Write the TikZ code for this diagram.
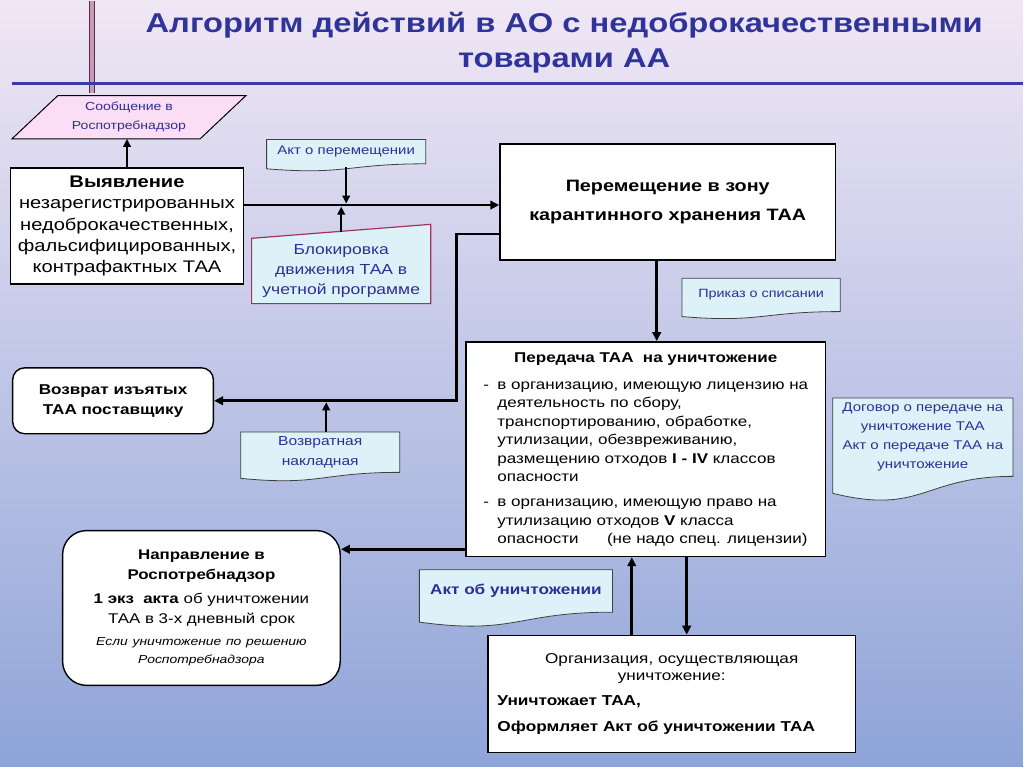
\documentclass[tikz,border=0pt]{standalone}
\usepackage{fontspec}
\setmainfont{Liberation Sans}[FakeStretch=1.2]
\usetikzlibrary{calc,arrows.meta}
\pgfdeclarelayer{bgl}
\pgfdeclarelayer{shp}
\pgfsetlayers{bgl,shp,main}
\definecolor{ttl}{HTML}{30349A}
\definecolor{dtext}{HTML}{2E2E96}
\definecolor{docfill}{HTML}{DDF2F8}
\definecolor{pinkfill}{HTML}{FCDDF6}
\definecolor{crim}{HTML}{A8305E}
\definecolor{hline}{HTML}{3A3AA6}
\definecolor{vline}{HTML}{5E2848}
\definecolor{vlinein}{HTML}{C79AB8}
\definecolor{bgtop}{HTML}{F0E7F5}
\definecolor{bgmid}{HTML}{C8C7EA}
\definecolor{bgbot}{HTML}{8EA4D8}
\tikzset{
  box/.style={draw=black, line width=1.4pt, fill=white, anchor=north west, inner sep=0pt},
  frame/.style={anchor=north west, inner sep=0pt, draw=none},
  docshape/.style={fill=docfill, draw=black!75, line width=0.8pt},
  arr/.style={draw=black, line width=2.6pt, -{Triangle[length=9pt,width=8.5pt]}},
  thinarr/.style={draw=black, line width=2pt, -{Triangle[length=8pt,width=7.5pt]}},
}
\newcommand\docpath[2]{%
  \begin{pgfonlayer}{shp}
  \path[docshape] (#1.north west) -- (#1.north east) -- (#1.south east)
    .. controls (#1.south) and ($(#1.south)+(0,{2.3*#2})$) .. ($(#1.south west)+(0,#2)$) -- cycle;
  \end{pgfonlayer}}
\begin{document}
\begin{tikzpicture}[x=1pt, y=-1pt]
\begin{pgfonlayer}{bgl}
\fill[top color=bgtop, middle color=bgmid, bottom color=bgbot] (0,0) rectangle (1024,767);
\fill[vlinein] (89,0) rectangle (95,92);
\draw[vline, line width=1.3pt] (89.5,0) -- (89.5,92);
\draw[vline, line width=1.3pt] (94.5,0) -- (94.5,92);
\draw[hline, line width=3pt] (12,83) -- (1024,83);
\end{pgfonlayer}
\useasboundingbox (0,0) rectangle (1024,767);

% title
\node[font=\fontsize{27.3}{35}\selectfont\bfseries, text=ttl, align=center] (title) at (565,42)
  {Алгоритм действий в АО с недоброкачественными\\товарами АА};

% message parallelogram
\node[frame, minimum width=234pt, minimum height=43pt, align=center, text=dtext,
  font=\fontsize{11.7}{19}\selectfont] (soob) at (12,95) {Сообщение в\\Роспотребнадзор};
\begin{pgfonlayer}{shp}
\path[fill=pinkfill, draw=black, line width=1pt] ($(soob.north west)+(46,0)$) -- (soob.north east)
  -- ($(soob.south east)+(-46,0)$) -- (soob.south west) -- cycle;
\end{pgfonlayer}

% detection
\node[box, minimum width=233pt, minimum height=116pt, text width=229pt, align=center,
  font=\fontsize{16.8}{21.3}\selectfont] (viav) at (10,167)
  {\textbf{Выявление}\\незарегистрированных\\недоброкачественных,\\фальсифицированных,\\контрафактных ТАА};

% act of moving
\node[frame, minimum width=159pt, minimum height=24pt, text=dtext,
  font=\fontsize{12.5}{17}\selectfont] (aktp) at (267,139) {Акт о перемещении};
\docpath{aktp}{5}

% quarantine
\node[box, minimum width=336pt, minimum height=116pt, align=center,
  font=\bfseries\fontsize{16.5}{21}\selectfont] (perem) at (500,143)
  {Перемещение в зону\\[8pt]карантинного хранения ТАА};

% blocking
\node[frame, minimum width=179pt, minimum height=64pt, align=center, text=dtext,
  font=\fontsize{14.6}{20}\selectfont] (blok) at (252,239) {Блокировка\\движения ТАА в\\учетной программе};
\begin{pgfonlayer}{shp}
\path[fill=docfill, draw=crim, line width=1.2pt] ($(blok.north west)+(0,-1)$) -- ($(blok.north east)+(0,-15)$)
  -- (blok.south east) -- (blok.south west) -- cycle;
\end{pgfonlayer}

% write-off order
\node[frame, minimum width=158pt, minimum height=33pt, text=dtext,
  font=\fontsize{12}{17}\selectfont] (prik) at (683,278) {Приказ о списании};
\docpath{prik}{5}

% transfer for destruction
\node[box, minimum width=360pt, minimum height=215pt, font=\fontsize{14.2}{18.5}\selectfont] (pered) at (466,341) {%
\begin{tabular}{@{}p{14pt}@{}l@{}}
\multicolumn{2}{c}{\textbf{Передача ТАА\ \ на уничтожение}}\\[8.5pt]
- & в организацию, имеющую лицензию на\\
  & деятельность по сбору,\\
  & транспортированию, обработке,\\
  & утилизации, обезвреживанию,\\
  & размещению отходов \textbf{I - IV} классов\\
  & опасности\\[6.5pt]
- & в организацию, имеющую право на\\
  & утилизацию отходов \textbf{V} класса\\
  & опасности\qquad (не надо спец. лицензии)
\end{tabular}};

% return to supplier
\node[box, rounded corners=12pt, minimum width=201pt, minimum height=66pt, align=center,
  font=\bfseries\fontsize{14.3}{20}\selectfont] (vozv) at (12,367) {Возврат изъятых\\ТАА поставщику};

% return invoice
\node[frame, minimum width=159pt, minimum height=40pt, align=center, text=dtext,
  font=\fontsize{13}{20}\selectfont] (vozn) at (241,432) {Возвратная\\накладная};
\docpath{vozn}{6}

% contract
\node[frame, minimum width=180pt, minimum height=78pt, align=center, text=dtext,
  font=\fontsize{12.6}{19}\selectfont] (dogov) at (834,398)
  {Договор о передаче на\\уничтожение ТАА\\Акт о передаче ТАА на\\уничтожение};
\docpath{dogov}{17}

% direction to Rospotrebnadzor
\node[box, rounded corners=24pt, minimum width=278pt, minimum height=155pt, text width=270pt, align=center,
  font=\fontsize{14.1}{20}\selectfont] (napr) at (62,530)
  {\textbf{Направление в\\Роспотребнадзор}\par\vspace{4pt}
   \textbf{1 экз\ \ акта} об уничтожении\\ТАА в 3-х дневный срок\par\vspace{4pt}
   {\fontsize{11.6}{18}\selectfont\itshape Если уничтожение по решению\\Роспотребнадзора\par}};

% act of destruction
\node[frame, minimum width=193pt, minimum height=42pt, text=dtext,
  font=\bfseries\fontsize{14.3}{19}\selectfont] (aktu) at (420,570) {Акт об уничтожении};
\docpath{aktu}{10}

% destroying organization
\node[box, minimum width=368pt, minimum height=117pt] (org) at (488,635) {};
\node[align=center, font=\fontsize{14.3}{17.5}\selectfont] (orgT1) at ($(org.north)+(0,34)$)
  {Организация, осуществляющая\\уничтожение:};
\node[anchor=west, inner sep=0pt, font=\bfseries\fontsize{14.4}{19}\selectfont] (orgT2) at ($(org.north west)+(10,67)$)
  {Уничтожает ТАА,};
\node[anchor=west, inner sep=0pt, font=\bfseries\fontsize{14.4}{19}\selectfont] (orgT3) at ($(org.north west)+(10,93)$)
  {Оформляет Акт об уничтожении ТАА};

% connectors
\draw[thinarr] (viav.north) -- (viav.north |- soob.south);
\coordinate (m1) at ($(viav.east)+(0,-21)$);
\draw[arr] (m1) -- (m1 -| perem.west);
\draw[thinarr] ($(aktp.south)+(0,3)$) -- ($(aktp.south |- m1)+(0,-1.5)$);
\draw[thinarr] ($(blok.north)+(0,-7)$) -- ($(blok.north |- m1)+(0,1.5)$);
\draw[arr] ($(perem.west)+(0,32)$) -- ++(-43,0) |- (vozv.east);
\coordinate (m2) at ($(perem.south)+(-11,0)$);
\draw[arr] (m2) -- (m2 |- pered.north);
\coordinate (m3) at ($(vozn.north)+(6,0)$);
\draw[thinarr] (m3) -- ($(m3 |- vozv.east)+(0,1.5)$);
\coordinate (m4) at ($(pered.south west)+(0,-8)$);
\draw[arr] (m4) -- (m4 -| napr.east);
\coordinate (m5) at ($(org.north)+(-40,0)$);
\draw[arr] (m5) -- (m5 |- pered.south);
\coordinate (m6) at ($(pered.south)+(41,0)$);
\draw[arr] (m6) -- (m6 |- org.north);
\end{tikzpicture}
\end{document}
